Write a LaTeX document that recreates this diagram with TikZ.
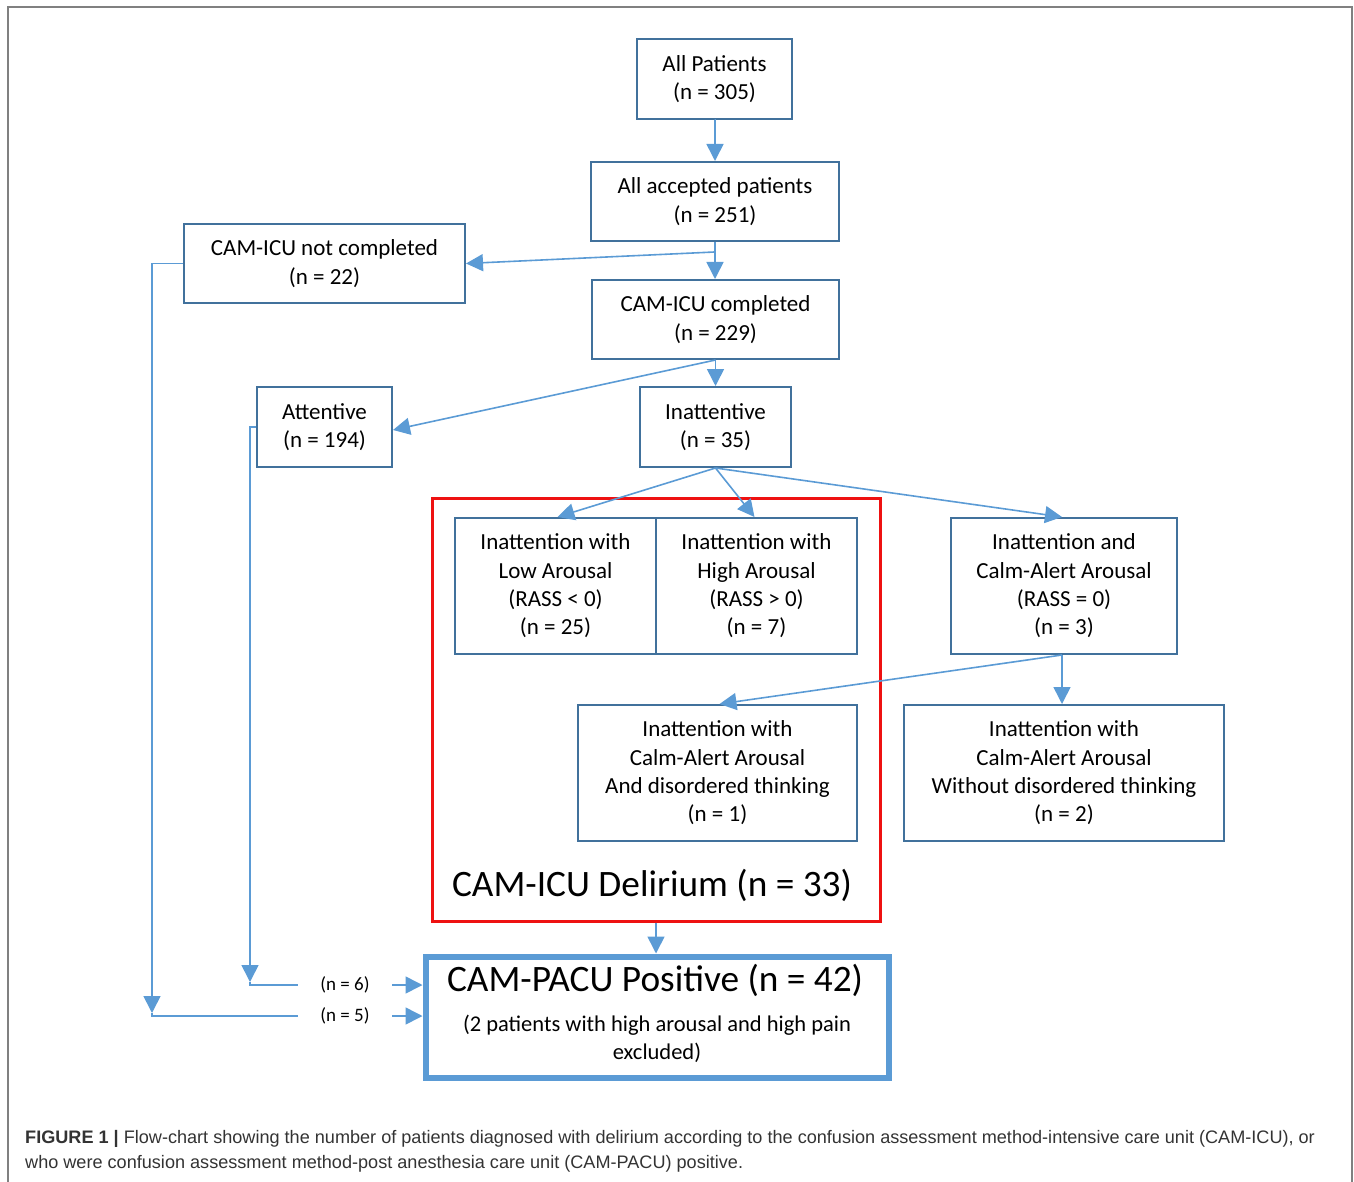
\documentclass[tikz,border=0pt]{standalone}
\usepackage{fontspec}
\setmainfont{Carlito}
\newfontfamily\capfont{Liberation Sans}
\usetikzlibrary{arrows.meta}
\definecolor{boxblue}{HTML}{41719C}
\definecolor{arrblue}{HTML}{5B9BD5}
\definecolor{redline}{HTML}{EE1111}
\definecolor{capgray}{HTML}{333333}
\begin{document}
\begin{tikzpicture}[x=1pt,y=-1pt,
  box/.style={draw=boxblue, line width=2pt, align=center, inner sep=0pt,
    font=\fontsize{23}{28.3}\selectfont},
  arr/.style={draw=arrblue, line width=1.6pt, -{Triangle[length=17pt,width=17pt]}},
  plain/.style={draw=arrblue, line width=1.6pt},
  lbl/.style={inner xsep=0pt, inner ysep=0pt, minimum width=94pt, font=\fontsize{19}{22}\selectfont},
  captxt/.style={anchor=base west, inner sep=0pt, text=capgray, font=\capfont\fontsize{18.1}{20}\selectfont}]
\useasboundingbox (0,0) rectangle (1354,1182);
% outer frame
\draw[gray, line width=1.5pt] (8,1182) -- (8,7) -- (1352,7) -- (1352,1182);

% boxes
\node[box, minimum width=155pt, minimum height=80pt] (all) at (714.5,79) {All Patients\\(n = 305)};
\node[box, minimum width=248pt, minimum height=79pt] (acc) at (715,201.5) {All accepted patients\\(n = 251)};
\node[box, minimum width=281pt, minimum height=79pt] (notc) at (324.5,263.5) {CAM-ICU not completed\\(n = 22)};
\node[box, minimum width=247pt, minimum height=79pt] (comp) at (715.5,319.5) {CAM-ICU completed\\(n = 229)};
\node[box, minimum width=135pt, minimum height=80pt] (att) at (324.5,427) {Attentive\\(n = 194)};
\node[box, minimum width=151pt, minimum height=80pt] (inatt) at (715.5,427) {Inattentive\\(n = 35)};

% red delirium frame
\node[draw=redline, line width=3pt, minimum width=448pt, minimum height=423pt, inner sep=0pt] (red) at (656,709.5) {};

\node[box, minimum width=201pt, minimum height=136pt] (low) at (555.5,586) {Inattention with\\Low Arousal\\(RASS < 0)\\(n = 25)};
\node[box, minimum width=201pt, minimum height=136pt] (high) at (756.5,586) {Inattention with\\High Arousal\\(RASS > 0)\\(n = 7)};
\node[box, minimum width=226pt, minimum height=136pt] (calm) at (1064,586) {Inattention and\\Calm-Alert Arousal\\(RASS = 0)\\(n = 3)};
\node[box, minimum width=279pt, minimum height=136pt] (dis) at (717.5,773) {Inattention with\\Calm-Alert Arousal\\And disordered thinking\\(n = 1)};
\node[box, minimum width=320pt, minimum height=136pt] (wo) at (1064,773) {Inattention with\\Calm-Alert Arousal\\Without disordered thinking\\(n = 2)};

\node[inner sep=0pt, font=\fontsize{37.3}{40}\selectfont] (delir) at (652,885) {CAM-ICU Delirium (n = 33)};

% PACU box
\node[draw=arrblue, line width=6pt, minimum width=463pt, minimum height=121pt, inner sep=0pt] (pacu) at (657,1017) {};
\node[inner sep=0pt, font=\fontsize{37.3}{40}\selectfont] (pacut) at (655,980) {CAM-PACU Positive (n = 42)};
\node[inner sep=0pt, align=center, font=\fontsize{22.5}{28}\selectfont] (pacus) at (657,1039) {(2 patients with high arousal and high pain\\excluded)};

% side labels
\node[lbl] (n6) at (345,985) {(n = 6)};
\node[lbl] (n5) at (345,1016) {(n = 5)};

% connectors
\draw[arr] (all.south) -- (acc.south |- all.south) -- (acc.north);
\coordinate (j1) at (714.5,252);
\draw[arr] (acc.south) -- (acc.south |- comp.north);
\draw[arr] (j1) -- (notc.east);
\draw[arr] (comp.south) -- (comp.south |- inatt.north);
\draw[arr] (comp.south) -- ([yshift=-3pt]att.east);
\draw[arr] (inatt.south) -- ([xshift=2pt]low.north);
\draw[arr] (inatt.south) -- ([xshift=-2pt]high.north);
\draw[arr] (inatt.south) -- ([xshift=-2pt]calm.north);
\draw[arr] ([xshift=-2pt]calm.south) -- ([xshift=-2pt]calm.south |- wo.north);
\draw[arr] ([xshift=-2pt]calm.south) -- ([xshift=2pt]dis.north);
\draw[arr] (red.south) -- (red.south |- pacu.north);

\coordinate (c5) at (152,1013);
\coordinate (c6) at (250,982);
\draw[arr] (notc.west) -| (c5);
\draw[plain] (c5) |- (n5.west);
\draw[arr] (att.west) -| (c6);
\draw[plain] (c6) |- (n6.west);
\draw[arr] (n6.east) -- (n6.east -| pacu.west);
\draw[arr] (n5.east) -- (n5.east -| pacu.west);

% caption
\node[captxt] (cap1) at (25,1143) {\textbf{FIGURE 1 |} Flow-chart showing the number of patients diagnosed with delirium according to the confusion assessment method-intensive care unit (CAM-ICU), or};
\node[captxt] (cap2) at (25,1168) {who were confusion assessment method-post anesthesia care unit (CAM-PACU) positive.};
\end{tikzpicture}
\end{document}
